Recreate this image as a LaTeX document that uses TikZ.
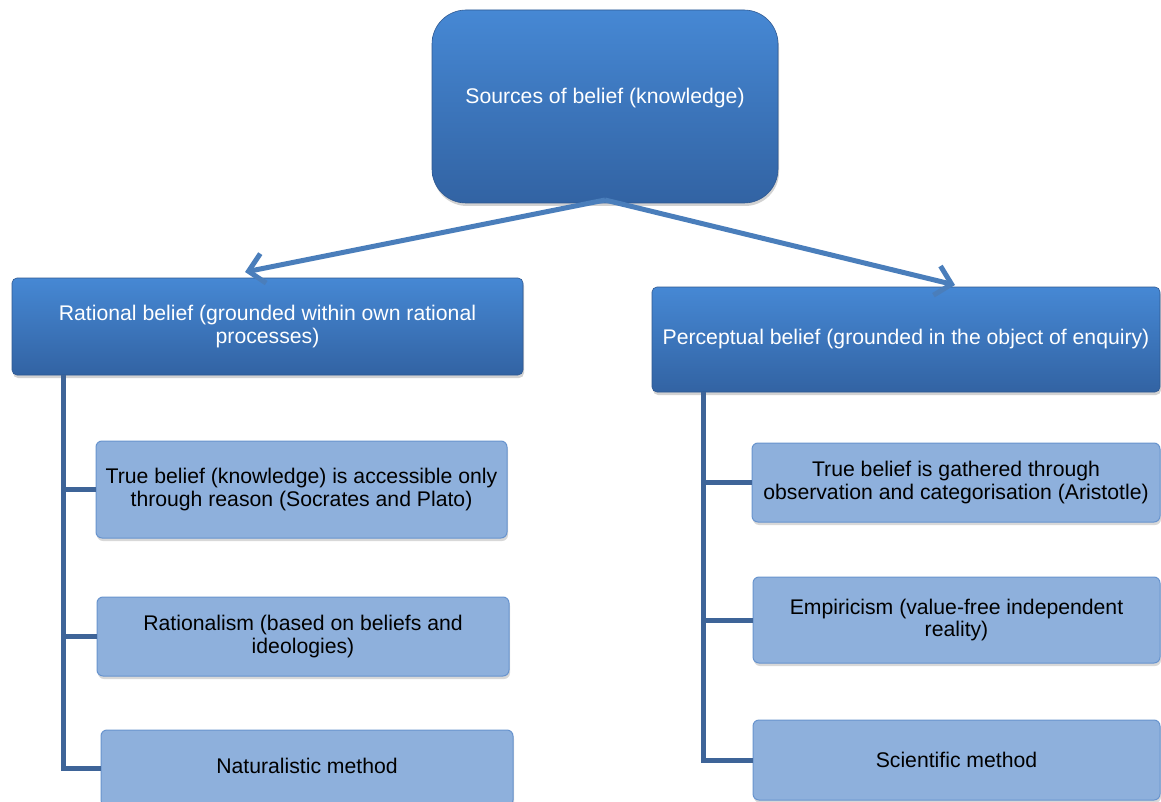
\documentclass[tikz,border=0pt]{standalone}
\usepackage{fontspec}
\setmainfont{Liberation Sans}
\usetikzlibrary{arrows.meta,shadows,calc}
\definecolor{darktop}{RGB}{70,136,212}
\definecolor{darkbot}{RGB}{50,99,163}
\definecolor{darkline}{RGB}{46,88,145}
\definecolor{lightfill}{RGB}{142,176,220}
\definecolor{lightline}{RGB}{104,148,206}
\definecolor{arrowcol}{RGB}{74,126,187}
\definecolor{spinecol}{RGB}{62,100,152}
\begin{document}
\begin{tikzpicture}[x=1pt,y=-1pt,
  every node/.style={font=\fontsize{21.2}{22.8}\selectfont, align=center, inner sep=0pt},
  rootbox/.style={rectangle, rounded corners=34pt, top color=darktop, bottom color=darkbot, draw=darkline, line width=0.6pt, text=white,
    drop shadow={shadow xshift=1pt, shadow yshift=-3pt, opacity=0.35}},
  levelbox/.style={rectangle, rounded corners=5pt, top color=darktop, bottom color=darkbot, draw=darkline, line width=0.6pt, text=white,
    drop shadow={shadow xshift=1pt, shadow yshift=-3pt, opacity=0.35}},
  childbox/.style={rectangle, rounded corners=6pt, fill=lightfill, draw=lightline, line width=1pt, text=black,
    drop shadow={shadow xshift=1pt, shadow yshift=-3pt, opacity=0.3}},
  arrowline/.style={draw=arrowcol, line width=5pt, -{Straight Barb[length=15pt,width=30pt]}},
  spine/.style={draw=spinecol, line width=5pt}
]
\useasboundingbox[fill=white] (0,0) rectangle (1161,802);

% root
\node[rootbox, minimum width=346pt, minimum height=193pt] (root) at (605,106.5)
  {\raisebox{21pt}{Sources of belief (knowledge)}};

% level 1
\node[levelbox, minimum width=511pt, minimum height=97pt] (L) at (267.5,326.5)
  {Rational belief (grounded within own rational\\processes)};
\node[levelbox, minimum width=508pt, minimum height=105pt] (R) at (906,339.5)
  {Perceptual belief (grounded in the object of enquiry)};

% arrows
\coordinate (top) at (605,200);
\coordinate (ltip) at (245,272);
\coordinate (rtip) at (955,285);
\draw[arrowline] (top) -- (ltip);
\draw[arrowline] (top) -- (rtip);

% left children
\node[childbox, minimum width=411pt, minimum height=97pt] (lc1) at (301.5,489.5)
  {True belief (knowledge) is accessible only\\through reason (Socrates and Plato)};
\node[childbox, minimum width=412pt, minimum height=79pt] (lc2) at (303,636.5)
  {Rationalism (based on beliefs and\\ideologies)};
\node[childbox, minimum width=412pt, minimum height=76pt] (lc3) at (307,768)
  {\raisebox{4pt}{Naturalistic method}};

% right children
\node[childbox, minimum width=408pt, minimum height=79pt] (rc1) at (956,482.5)
  {True belief is gathered through\\observation and categorisation (Aristotle)};
\node[childbox, minimum width=407pt, minimum height=86pt] (rc2) at (956.5,620)
  {Empiricism (value-free independent\\reality)};
\node[childbox, minimum width=407pt, minimum height=80pt] (rc3) at (956.5,760)
  {Scientific method};

% spines
\coordinate (lsp) at (63,375);
\coordinate (rsp) at (703,392);
\draw[spine] (lsp) |- (lc3.west);
\draw[spine] (lsp |- lc1.west) -- (lc1.west);
\draw[spine] (lsp |- lc2.west) -- (lc2.west);
\draw[spine] (rsp) |- (rc3.west);
\draw[spine] (rsp |- rc1.west) -- (rc1.west);
\draw[spine] (rsp |- rc2.west) -- (rc2.west);
\end{tikzpicture}
\end{document}
